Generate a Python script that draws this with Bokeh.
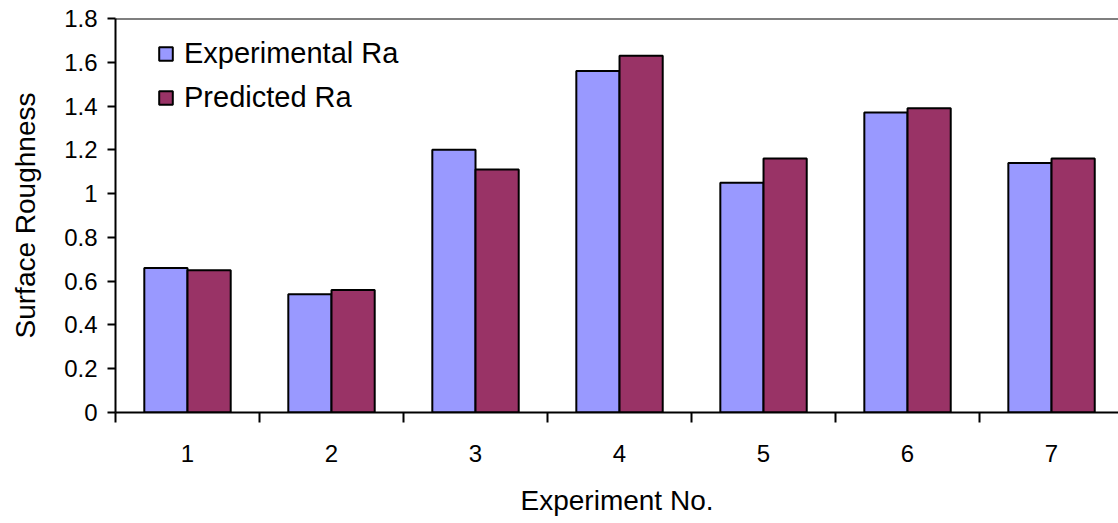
from bokeh.plotting import figure
from bokeh.models import ColumnDataSource, FixedTicker, Range1d, Span, Legend, LegendItem
from bokeh.transform import dodge
from bokeh.embed import file_html
from bokeh.resources import INLINE

experiments = [1, 2, 3, 4, 5, 6, 7]
experimental_ra = [0.66, 0.54, 1.20, 1.56, 1.05, 1.37, 1.14]
predicted_ra = [0.65, 0.56, 1.11, 1.63, 1.16, 1.39, 1.16]
x_tick_labels = ["1", "2", "3", "4", "5", "6", "7"]
y_ticks = [0, 0.2, 0.4, 0.6, 0.8, 1.0, 1.2, 1.4, 1.6, 1.8]
y_tick_labels = ["0", "0.2", "0.4", "0.6", "0.8", "1", "1.2", "1.4", "1.6", "1.8"]
x_boundaries = [e - 0.5 for e in experiments] + [experiments[-1] + 0.5]

FONT = "Liberation Sans"

src = ColumnDataSource(dict(x=experiments, exp=experimental_ra, pred=predicted_ra))

p = figure(width=1118, height=523, output_backend="svg", toolbar_location=None,
           x_range=Range1d(0.5, 7.465), y_range=Range1d(0, 1.8),
           min_border_left=115, min_border_right=0, min_border_top=18,
           min_border_bottom=111)

p.grid.visible = False
p.outline_line_color = None
p.background_fill_color = "white"
p.border_fill_color = "white"

r1 = p.vbar(x=dodge("x", -0.15), top="exp", width=0.3, source=src,
            fill_color="#9999FF", line_color="black", line_width=2)
r2 = p.vbar(x=dodge("x", 0.15), top="pred", width=0.3, source=src,
            fill_color="#993366", line_color="black", line_width=2)

p.add_layout(Span(location=1.8, dimension="width", line_color="black", line_width=2))

# x axis
xa = p.xaxis[0]
xa.ticker = FixedTicker(ticks=experiments, minor_ticks=x_boundaries)
xa.major_label_overrides = dict(zip(experiments, x_tick_labels))
xa.major_tick_out = 0
xa.major_tick_in = 0
xa.minor_tick_out = 10
xa.minor_tick_in = 0
xa.minor_tick_line_color = "black"
xa.minor_tick_line_width = 2
xa.axis_line_width = 2
xa.axis_line_color = "black"
xa.major_label_standoff = 22
xa.major_label_text_font = FONT
xa.major_label_text_font_size = "24px"
xa.major_label_text_color = "black"
xa.axis_label = "Experiment No."
xa.axis_label_text_font = FONT
xa.axis_label_text_font_size = "28px"
xa.axis_label_text_font_style = "normal"
xa.axis_label_text_color = "black"
xa.axis_label_standoff = 20

# y axis
ya = p.yaxis[0]
ya.ticker = FixedTicker(ticks=y_ticks)
ya.major_label_overrides = dict(zip(y_ticks, y_tick_labels))
ya.major_tick_out = 8
ya.major_tick_in = 0
ya.major_tick_line_width = 2
ya.major_tick_line_color = "black"
ya.minor_tick_line_color = None
ya.axis_line_width = 2
ya.axis_line_color = "black"
ya.major_label_standoff = 10
ya.major_label_text_font = FONT
ya.major_label_text_font_size = "24px"
ya.major_label_text_color = "black"
ya.axis_label = "Surface Roughness"
ya.axis_label_text_font = FONT
ya.axis_label_text_font_size = "28px"
ya.axis_label_text_font_style = "normal"
ya.axis_label_text_color = "black"
ya.axis_label_standoff = 20

legend = Legend(items=[LegendItem(label="Experimental Ra", renderers=[r1]),
                       LegendItem(label="Predicted Ra", renderers=[r2])],
                location=(42, 298), margin=0, padding=14, spacing=11,
                glyph_width=17, glyph_height=17, label_standoff=10,
                label_text_font=FONT, label_text_font_size="29px",
                label_text_color="black",
                border_line_color=None, background_fill_alpha=0)
p.add_layout(legend)

open("out.html", "w").write(file_html(p, INLINE))
